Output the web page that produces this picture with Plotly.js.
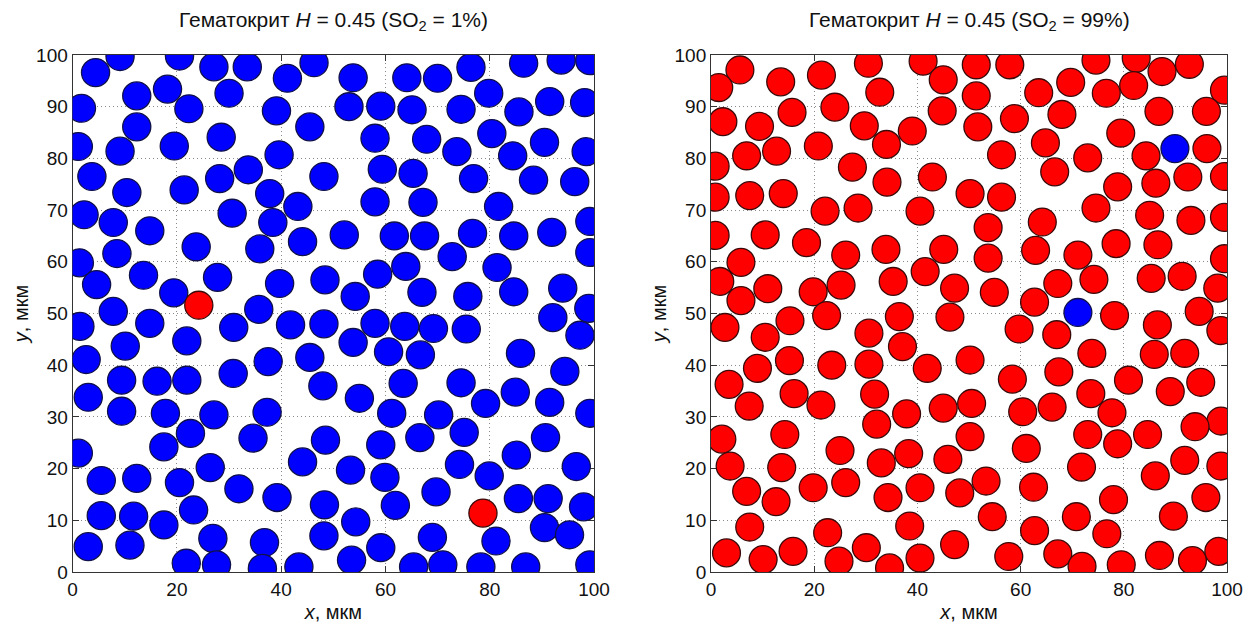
<!DOCTYPE html>
<html>
<head>
<meta charset="utf-8">
<script src="https://cdn.plot.ly/plotly-3.0.1.min.js"></script>
<style>html,body{margin:0;padding:0;background:#fff;}#chart{width:1254px;height:627px;}</style>
</head>
<body>
<div id="chart"></div>
<script>
// ---- Data (circle centres in мкм) ----
const cellRadius = 2.7;
const axisTicksX = [0, 20, 40, 60, 80, 100];
const axisTicksY = [0, 10, 20, 30, 40, 50, 60, 70, 80, 90, 100];
const leftTitle = 'Гематокрит <i>H</i> = 0.45 (SO<sub>2</sub> = 1%)';
const rightTitle = 'Гематокрит <i>H</i> = 0.45 (SO<sub>2</sub> = 99%)';

// Left panel: deoxygenated (blue) cells
const leftBlue = [
[9.1,99.7],[4.4,96.6],[20.5,99.8],[27.1,97.7],[33.5,97.7],[41.2,95.5],[46.3,98.5],[12.3,92.1],[18.2,93.4],[22.3,89.6],[30.0,92.6],[1.7,89.7],[39.1,89.2],[45.5,86.1],[12.3,86.1],[1.1,82.3],[9.1,81.4],[19.5,82.4],[28.5,84.1],[39.6,80.7],[3.7,76.5],[10.4,73.4],[21.4,73.9],[28.2,76.1],[33.7,77.8],[37.8,73.2],[48.2,76.5],[43.2,70.7],[2.2,69.1],[7.8,67.6],[14.8,66.0],[30.6,69.4],[38.4,67.6],[44.1,63.9],[23.7,62.9],[35.9,62.5],[8.5,61.6],[1.3,59.8],[4.6,55.6],[13.6,57.4],[27.8,57.0],[39.7,55.8],[19.4,54.0],[35.7,50.8],[7.8,50.4],[48.4,56.5],
[53.8,95.6],[64.1,95.6],[70.0,95.5],[76.4,97.6],[86.5,98.4],[93.7,99.0],[99.2,98.9],[79.8,92.6],[53.0,90.0],[59.1,90.1],[65.1,89.4],[74.5,89.5],[85.6,89.0],[91.5,91.0],[98.2,90.8],[58.0,83.9],[67.9,83.7],[73.7,81.3],[80.4,84.8],[84.4,80.5],[90.5,83.1],[98.5,81.3],[59.4,77.9],[65.3,77.1],[76.9,76.1],[88.4,75.8],[96.3,75.5],[58.0,71.6],[67.2,71.5],[81.7,70.7],[99.2,67.8],[52.1,65.2],[61.7,65.0],[67.5,65.0],[76.7,65.5],[84.6,65.0],[91.9,65.7],[99.2,61.8],[72.8,61.0],[63.9,59.1],[58.5,57.6],[81.4,58.9],[54.2,53.3],[67.0,54.1],[75.8,53.3],[84.6,54.2],[94.0,54.9],[99.0,51.0],
[48.2,48.0],[58.0,48.1],[63.7,47.5],[69.2,47.1],[75.5,47.0],[92.1,49.2],[97.3,45.8],[53.8,44.4],[60.6,42.6],[66.7,42.0],[85.9,42.3],[94.4,38.8],[48.0,36.0],[63.4,36.5],[74.5,36.6],[55.0,33.6],[79.2,32.6],[84.9,34.8],[91.5,32.8],[99.2,30.7],[61.2,30.7],[70.2,30.4],[66.6,26.0],[75.1,27.0],[48.5,25.5],[59.1,24.6],[90.7,26.0],[85.1,22.6],[74.2,20.8],[79.9,18.6],[96.6,20.4],[53.3,19.7],[59.9,18.3],[69.7,15.5],[61.9,12.9],[48.3,13.0],[85.5,14.2],[91.2,14.2],[98.0,12.6],[54.3,9.7],[90.5,8.6],[95.3,7.2],[48.2,7.0],[81.2,6.0],[69.0,6.7],[59.1,4.7],[53.5,2.3],[65.4,1.0],[71.0,1.4],[78.3,1.0],[86.9,1.0],[99.2,1.4],
[1.4,47.5],[14.8,48.1],[30.9,47.3],[41.8,47.8],[10.1,43.7],[21.9,44.7],[2.6,41.1],[37.5,40.7],[45.5,41.5],[9.4,37.1],[16.2,36.9],[21.9,37.1],[30.8,38.4],[3.0,33.8],[9.4,31.1],[17.8,30.7],[27.1,30.4],[37.3,30.9],[22.6,26.8],[34.6,25.9],[17.5,24.2],[1.1,23.0],[26.4,20.2],[44.1,21.3],[5.5,17.7],[12.3,18.1],[20.5,17.3],[31.9,16.1],[39.2,14.4],[5.5,10.9],[11.7,10.8],[23.2,12.0],[17.5,9.1],[3.0,4.9],[11.0,5.2],[26.9,6.5],[36.8,5.7],[21.8,1.7],[27.6,1.4],[36.4,0.7],[43.4,1.0]
];
// Left panel: oxygenated (red) cells
const leftRed = [[24.2,51.6],[78.7,11.4]];

// Right panel: oxygenated (red) cells
const rightRed = [
[5.6,97.1],[1.5,93.7],[13.5,94.8],[21.4,96.1],[30.5,98.4],[41.1,98.8],[45.0,95.2],[32.7,92.8],[51.4,98.1],[24.0,89.9],[15.7,88.9],[2.3,87.1],[9.4,86.2],[29.7,86.3],[39.0,85.3],[44.8,89.2],[34.0,82.7],[20.8,82.4],[6.9,80.5],[12.7,81.4],[0.8,78.5],[27.4,78.3],[34.1,75.4],[42.9,76.4],[7.5,72.8],[14.0,73.2],[0.8,72.5],[50.2,73.2],[22.1,69.8],[28.5,70.4],[40.5,69.8],[0.8,65.1],[10.5,65.2],[18.5,63.7],[26.1,61.3],[33.9,62.4],[45.1,62.4],[5.8,59.9],[1.7,56.2],[11.0,54.8],[19.8,54.2],[25.2,55.5],[35.3,56.2],[41.5,58.1],[47.2,54.9],[5.8,52.5],
[2.7,47.3],[15.3,48.6],[22.4,49.6],[36.5,49.4],[46.3,49.3],[10.5,45.4],[30.6,46.2],[37.1,43.6],[9.0,39.4],[15.2,40.9],[23.4,40.0],[30.6,40.2],[41.9,39.4],[50.2,41.0],[3.5,36.3],[16.1,34.5],[31.7,34.4],[7.4,32.1],[21.3,32.3],[32.1,28.6],[37.9,30.6],[45.0,31.7],[2.1,25.7],[14.3,26.6],[50.2,26.2],[25.0,23.5],[33.0,21.1],[38.3,22.9],[45.9,21.8],[3.7,20.5],[13.7,20.2],[6.9,15.6],[19.8,16.3],[26.1,17.3],[12.6,13.6],[34.3,14.4],[40.5,16.3],[48.2,15.3],[7.5,8.7],[22.6,7.6],[38.5,8.9],[3.0,3.7],[10.1,2.4],[15.9,4.0],[24.8,2.1],[30.1,4.7],[34.6,0.8],[40.5,2.7],[47.2,5.3],
[57.9,98.1],[74.6,99.0],[82.4,99.4],[87.4,96.8],[92.7,98.2],[99.5,93.2],[51.4,92.1],[63.5,92.7],[69.7,94.7],[76.6,92.6],[81.9,94.1],[86.8,89.1],[96.0,89.1],[51.7,86.1],[58.8,87.7],[68.0,88.5],[79.4,84.9],[64.8,83.0],[56.3,80.7],[73.0,80.1],[84.3,80.5],[96.1,81.9],[66.6,77.4],[78.8,74.5],[86.2,75.2],[92.4,76.4],[99.5,76.5],[56.3,72.5],[74.6,70.4],[85.0,69.0],[93.0,68.0],[99.5,68.6],[53.7,66.6],[64.2,67.7],[78.5,63.5],[86.6,63.3],[53.7,60.7],[62.9,62.2],[71.1,61.3],[99.5,60.6],[67.2,55.8],[74.2,56.6],[85.3,56.8],[91.3,57.2],[54.9,54.1],[98.2,54.9],[62.7,52.2],
[78.2,49.6],[86.5,47.8],[94.6,50.4],[98.8,46.7],[59.7,47.0],[67.0,45.9],[73.8,42.3],[85.9,42.1],[91.8,42.3],[58.4,37.3],[67.4,38.7],[80.9,37.1],[89.0,34.9],[94.9,36.7],[73.6,34.5],[50.5,32.6],[60.4,31.0],[66.1,31.9],[77.7,30.8],[98.8,29.2],[73.0,26.6],[78.8,24.8],[84.6,26.6],[93.8,28.1],[61.1,23.9],[71.8,20.3],[86.1,18.6],[91.8,21.6],[98.8,20.5],[53.3,17.6],[62.5,16.4],[78.0,14.0],[95.9,14.4],[54.5,10.7],[70.8,10.7],[89.6,10.8],[62.7,8.0],[76.7,7.4],[57.7,3.0],[67.2,3.5],[71.9,1.1],[79.5,1.4],[86.9,3.2],[93.3,2.2],[98.4,4.0]
];
// Right panel: deoxygenated (blue) cells
const rightBlue = [[89.9,81.9],[71.1,50.2]];

// ---- Styles ----
const BLUE = {fill: '#0000ff', edge: '#10104a'};
const RED = {fill: '#ff0000', edge: '#3a0a0a'};
const FONT = 'Liberation Sans, Arial, Helvetica, sans-serif';

function cells(list, xref, yref, st) {
  return list.map(p => ({
    type: 'circle', xref: xref, yref: yref, layer: 'above',
    x0: p[0] - cellRadius, x1: p[0] + cellRadius,
    y0: p[1] - cellRadius, y1: p[1] + cellRadius,
    fillcolor: st.fill, line: {color: st.edge, width: 1.3}
  }));
}

const shapes = [].concat(
  cells(leftBlue, 'x', 'y', BLUE), cells(leftRed, 'x', 'y', RED),
  cells(rightRed, 'x2', 'y2', RED), cells(rightBlue, 'x2', 'y2', BLUE)
);

function xAx(domain, anchor) {
  return {
    domain: domain, anchor: anchor, range: [0, 100], tickvals: axisTicksX,
    ticks: 'inside', ticklen: 6, tickcolor: '#333', showline: true, linecolor: '#333', linewidth: 1,
    mirror: 'ticks', showgrid: true, gridcolor: '#8a8a8a', griddash: '1px,3px', gridwidth: 1,
    zeroline: false, fixedrange: true,
    tickfont: {family: FONT, size: 19, color: '#111'},
    title: {text: '<i>x</i>, мкм', font: {family: FONT, size: 20, color: '#111'}, standoff: 6}
  };
}
function yAx(domain, anchor) {
  return {
    domain: domain, anchor: anchor, range: [0, 100], tickvals: axisTicksY,
    ticks: 'inside', ticklen: 6, tickcolor: '#333', showline: true, linecolor: '#333', linewidth: 1,
    mirror: 'ticks', showgrid: true, gridcolor: '#8a8a8a', griddash: '1px,3px', gridwidth: 1,
    zeroline: false, fixedrange: true,
    tickfont: {family: FONT, size: 19, color: '#111'},
    title: {text: '<i>y</i>, мкм', font: {family: FONT, size: 20, color: '#111'}, standoff: 2}
  };
}

const yDom = [0.0877, 0.9123];
const layout = {
  width: 1254, height: 627,
  margin: {l: 0, r: 0, t: 0, b: 0},
  paper_bgcolor: '#ffffff', plot_bgcolor: '#ffffff',
  showlegend: false,
  xaxis: xAx([0.0579, 0.4737], 'y'),
  yaxis: yAx(yDom, 'x'),
  xaxis2: xAx([0.567, 0.9785], 'y2'),
  yaxis2: yAx(yDom, 'x2'),
  shapes: shapes,
  annotations: [
    {text: leftTitle, xref: 'paper', yref: 'paper', x: (0.0579 + 0.4737) / 2, y: 0.967,
     showarrow: false, xanchor: 'center', yanchor: 'middle', font: {family: FONT, size: 21, color: '#111'}},
    {text: rightTitle, xref: 'paper', yref: 'paper', x: (0.567 + 0.9785) / 2, y: 0.967,
     showarrow: false, xanchor: 'center', yanchor: 'middle', font: {family: FONT, size: 21, color: '#111'}}
  ]
};

const data = [
  {type: 'scatter', x: [], y: [], xaxis: 'x', yaxis: 'y', hoverinfo: 'skip'},
  {type: 'scatter', x: [], y: [], xaxis: 'x2', yaxis: 'y2', hoverinfo: 'skip'}
];

Plotly.newPlot('chart', data, layout, {displayModeBar: false, staticPlot: true});
</script>
</body>
</html>
